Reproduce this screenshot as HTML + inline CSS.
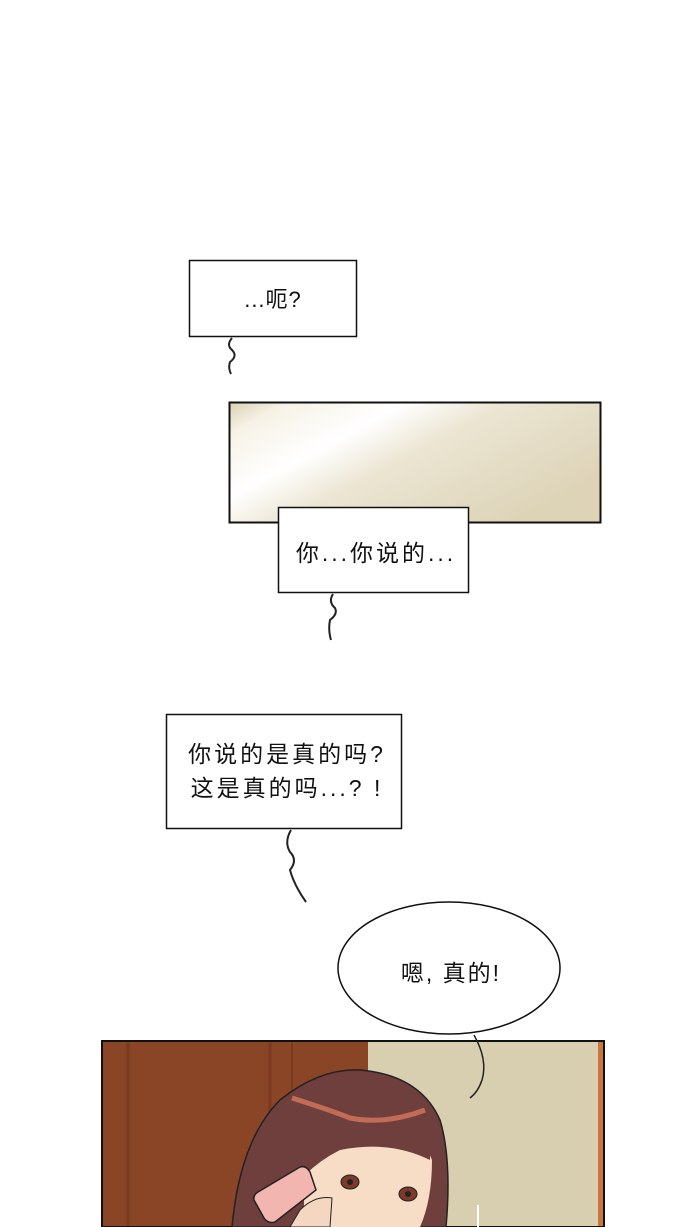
<!DOCTYPE html>
<html><head><meta charset="utf-8"><style>
html,body{margin:0;padding:0;background:#fff;}
svg{display:block;}
text{font-family:"Liberation Sans","Noto Sans CJK SC",sans-serif;fill:#111;}
</style></head><body>
<svg width="690" height="1227" viewBox="0 0 690 1227" xmlns="http://www.w3.org/2000/svg">
<defs>
<linearGradient id="g1" x1="0" y1="0" x2="1" y2="0.6">
<stop offset="0" stop-color="#d9d1b6"/>
<stop offset="0.12" stop-color="#f6f2e6"/>
<stop offset="0.35" stop-color="#ffffff"/>
<stop offset="0.55" stop-color="#ebe5d2"/>
<stop offset="1" stop-color="#ddd4b8"/>
</linearGradient>
</defs>
<rect x="189.5" y="260.5" width="167" height="76" fill="#fff" stroke="#111" stroke-width="1.5"/>
<text x="273" y="307" font-size="22" letter-spacing="1" text-anchor="middle">...呃?</text>
<path d="M232 338 Q226 345 232 350 Q238 356 230 362 Q228 368 231 374" fill="none" stroke="#222" stroke-width="2"/>
<rect x="229.5" y="402.5" width="371" height="120" fill="url(#g1)" stroke="#111" stroke-width="2"/>
<rect x="278.5" y="507.5" width="190" height="85" fill="#fff" stroke="#111" stroke-width="1.5"/>
<text x="376" y="561" font-size="23" letter-spacing="3" text-anchor="middle">你...你说的...</text>
<path d="M333 594 Q328 602 335 608 Q338 614 330 620 Q328 630 331 640" fill="none" stroke="#222" stroke-width="2"/>
<rect x="166.5" y="714.5" width="235" height="114" fill="#fff" stroke="#111" stroke-width="1.5"/>
<text x="287" y="762" font-size="23" letter-spacing="3" text-anchor="middle">你说的是真的吗?</text>
<text x="287" y="796" font-size="23" letter-spacing="3" text-anchor="middle">这是真的吗...? !</text>
<path d="M291 830 Q284 842 290 852 Q298 860 290 870 Q294 885 306 902" fill="none" stroke="#222" stroke-width="2"/>
<ellipse cx="449" cy="968" rx="111" ry="66" fill="#fff" stroke="#111" stroke-width="1.5"/>
<text x="451" y="981" font-size="23" letter-spacing="2" text-anchor="middle">嗯, 真的!</text>
<rect x="102" y="1041" width="502" height="186" fill="#8a4526"/>
<rect x="368" y="1042" width="234" height="185" fill="#d8cfb0"/>
<rect x="598" y="1042" width="6" height="185" fill="#c9763a"/>
<line x1="128" y1="1042" x2="128" y2="1227" stroke="#7a3a1f" stroke-width="3"/>
<line x1="270" y1="1042" x2="270" y2="1227" stroke="#7a3a1f" stroke-width="3"/>
<line x1="292" y1="1042" x2="292" y2="1227" stroke="#7a3a1f" stroke-width="2"/>
<rect x="102" y="1041" width="502" height="186" fill="none" stroke="#111" stroke-width="2"/>
<path d="M474 1035 Q488 1060 482 1080 Q478 1092 470 1098" fill="none" stroke="#222" stroke-width="1.5"/>
<path d="M232 1227 Q240 1140 280 1100 Q320 1068 360 1070 Q420 1075 440 1120 Q452 1160 446 1227 Z" fill="#6e3f3c" stroke="#222" stroke-width="1.5"/>
<path d="M292 1098 Q330 1110 350 1118 Q385 1125 425 1110" fill="none" stroke="#c26b55" stroke-width="5"/>
<path d="M305 1227 Q300 1160 320 1135 Q350 1150 400 1145 Q425 1140 432 1160 Q432 1200 420 1227 Z" fill="#f7dcc6"/>
<path d="M300 1150 Q330 1120 360 1125 Q390 1130 430 1140 L430 1160 Q390 1140 340 1150 Q320 1160 305 1175 Z" fill="#6e3f3c"/>
<ellipse cx="350" cy="1182" rx="9" ry="7" fill="#7a3b2a" stroke="#222"/>
<ellipse cx="408" cy="1194" rx="9" ry="7" fill="#7a3b2a" stroke="#222"/>
<circle cx="350" cy="1182" r="3" fill="#222"/>
<circle cx="408" cy="1194" r="3" fill="#222"/>
<path d="M258 1192 L300 1167 Q306 1165 310 1172 L316 1190 L275 1222 Q268 1224 264 1218 L254 1200 Q253 1195 258 1192Z" fill="#f2b5b0" stroke="#222" stroke-width="1.5"/>
<path d="M300 1210 Q315 1195 332 1198 L330 1227 L290 1227 Z" fill="#f5d6c0" stroke="#222" stroke-width="1"/>
<line x1="478" y1="1205" x2="478" y2="1227" stroke="#fff" stroke-width="2"/>
</svg>
</body></html>
